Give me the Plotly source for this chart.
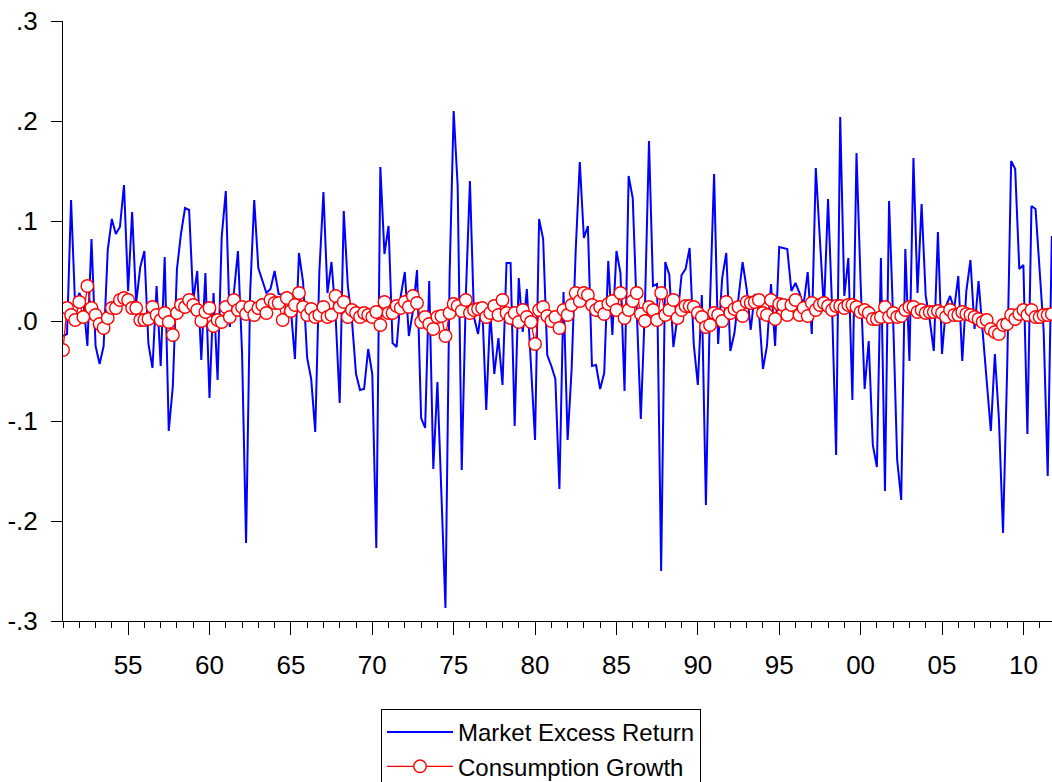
import pandas as pd
import plotly.graph_objects as go

start_quarter = "1951Q1"

# Market excess return, quarterly 1951Q1-2011Q4 (4 values per year)
market_excess_return = [
    -0.015, -0.013, 0.121, 0.014,    # 1951
    0.028, 0.020, -0.025, 0.082,     # 1952
    -0.025, -0.043, -0.025, 0.071,   # 1953
    0.102, 0.087, 0.094, 0.136,      # 1954
    0.030, 0.109, 0.018, 0.054,      # 1955
    0.070, -0.023, -0.047, 0.035,    # 1956
    -0.045, 0.064, -0.110, -0.065,   # 1957
    0.052, 0.087, 0.113, 0.111,      # 1958
    0.021, 0.050, -0.039, 0.048,     # 1959
    -0.077, 0.028, -0.059, 0.084,    # 1960
    0.130, -0.006, 0.028, 0.070,     # 1961
    -0.032, -0.222, 0.028, 0.121,    # 1962
    0.053, 0.041, 0.028, 0.032,      # 1963
    0.050, 0.027, 0.026, 0.025,      # 1964
    0.011, -0.038, 0.068, 0.039,     # 1965
    -0.037, -0.058, -0.111, 0.049,   # 1966
    0.129, 0.028, 0.059, 0.005,      # 1967
    -0.082, 0.110, 0.035, 0.001,     # 1968
    -0.053, -0.069, -0.068, -0.028,  # 1969
    -0.053, -0.227, 0.154, 0.067,    # 1970
    0.095, -0.022, -0.026, 0.025,    # 1971
    0.049, -0.015, 0.010, 0.051,     # 1972
    -0.097, -0.107, 0.040, -0.148,   # 1973
    -0.061, -0.165, -0.287, 0.044,   # 1974
    0.210, 0.135, -0.149, 0.025,     # 1975
    0.140, 0.004, -0.013, 0.018,     # 1976
    -0.089, 0.009, -0.053, -0.017,   # 1977
    -0.064, 0.058, 0.058, -0.105,    # 1978
    0.043, -0.011, 0.032, -0.044,    # 1979
    -0.119, 0.102, 0.082, -0.034,    # 1980
    -0.045, -0.058, -0.168, 0.029,   # 1981
    -0.119, -0.048, 0.070, 0.159,    # 1982
    0.083, 0.095, -0.045, -0.044,    # 1983
    -0.068, -0.052, 0.060, -0.014,   # 1984
    0.070, 0.048, -0.070, 0.145,     # 1985
    0.123, 0.011, -0.098, 0.012,     # 1986
    0.180, 0.035, 0.037, -0.250,     # 1987
    0.059, 0.046, -0.026, 0.004,     # 1988
    0.046, 0.052, 0.073, -0.023,     # 1989
    -0.064, 0.026, -0.184, 0.018,    # 1990
    0.147, -0.023, 0.043, 0.068,     # 1991
    -0.030, -0.012, 0.021, 0.059,    # 1992
    0.032, -0.009, 0.027, 0.011,     # 1993
    -0.048, -0.025, 0.037, -0.025,   # 1994
    0.074, 0.073, 0.072, 0.030,      # 1995
    0.038, 0.028, 0.016, 0.049,      # 1996
    -0.013, 0.153, 0.077, 0.011,     # 1997
    0.122, 0.014, -0.134, 0.204,     # 1998
    0.025, 0.063, -0.079, 0.168,     # 1999
    0.039, -0.068, -0.020, -0.124,   # 2000
    -0.146, 0.063, -0.170, 0.120,    # 2001
    0.001, -0.139, -0.179, 0.072,    # 2002
    -0.040, 0.163, 0.028, 0.117,     # 2003
    0.025, 0.001, -0.030, 0.089,     # 2004
    -0.033, 0.015, 0.025, 0.012,     # 2005
    0.045, -0.040, 0.030, 0.061,     # 2006
    -0.008, 0.040, -0.010, -0.061,   # 2007
    -0.110, -0.033, -0.098, -0.212,  # 2008
    -0.050, 0.160, 0.152, 0.052,     # 2009
    0.056, -0.113, 0.115, 0.112,     # 2010
    0.050, -0.010, -0.155, 0.085,    # 2011
]

# Consumption growth, quarterly 1951Q1-2011Q4
consumption_growth = [
    -0.029, 0.013, 0.006, 0.001,     # 1951
    0.019, 0.004, 0.035, 0.013,      # 1952
    0.006, -0.003, -0.007, 0.003,    # 1953
    0.013, 0.013, 0.021, 0.023,      # 1954
    0.021, 0.013, 0.013, 0.001,      # 1955
    0.001, 0.002, 0.014, 0.006,      # 1956
    0.001, 0.008, -0.001, -0.014,    # 1957
    0.008, 0.016, 0.014, 0.021,      # 1958
    0.016, 0.011, 0.000, 0.009,      # 1959
    0.013, -0.005, 0.001, -0.001,    # 1960
    0.014, 0.004, 0.021, 0.011,      # 1961
    0.014, 0.007, 0.014, 0.006,      # 1962
    0.013, 0.016, 0.008, 0.021,      # 1963
    0.018, 0.018, 0.001, 0.023,      # 1964
    0.010, 0.016, 0.028, 0.014,      # 1965
    0.006, 0.012, 0.004, 0.006,      # 1966
    0.014, 0.004, 0.006, 0.025,      # 1967
    0.014, 0.019, 0.004, 0.011,      # 1968
    0.008, 0.004, 0.008, 0.006,      # 1969
    0.004, 0.009, -0.004, 0.019,     # 1970
    0.008, 0.008, 0.015, 0.013,      # 1971
    0.019, 0.014, 0.025, 0.018,      # 1972
    -0.001, 0.004, -0.003, -0.008,   # 1973
    0.004, 0.005, -0.015, 0.008,     # 1974
    0.017, 0.015, 0.010, 0.021,      # 1975
    0.008, 0.011, 0.012, 0.013,      # 1976
    0.004, 0.008, 0.015, 0.006,      # 1977
    0.021, 0.008, 0.003, 0.008,      # 1978
    -0.001, 0.011, 0.004, -0.001,    # 1979
    -0.023, 0.011, 0.014, 0.005,     # 1980
    0.000, 0.004, -0.007, 0.011,     # 1981
    0.006, 0.016, 0.028, 0.020,      # 1982
    0.028, 0.026, 0.016, 0.011,      # 1983
    0.014, 0.007, 0.017, 0.020,      # 1984
    0.011, 0.028, 0.003, 0.011,      # 1985
    0.020, 0.028, 0.007, 0.000,      # 1986
    0.014, 0.011, 0.001, 0.028,      # 1987
    0.006, 0.011, 0.021, 0.003,      # 1988
    0.011, 0.015, 0.015, 0.014,      # 1989
    0.008, 0.004, -0.006, -0.004,    # 1990
    0.008, 0.006, 0.000, 0.019,      # 1991
    0.008, 0.012, 0.014, 0.005,      # 1992
    0.019, 0.018, 0.019, 0.021,      # 1993
    0.008, 0.006, 0.021, 0.002,      # 1994
    0.017, 0.016, 0.006, 0.016,      # 1995
    0.021, 0.006, 0.013, 0.005,      # 1996
    0.018, 0.011, 0.016, 0.018,      # 1997
    0.015, 0.011, 0.015, 0.015,      # 1998
    0.013, 0.016, 0.016, 0.014,      # 1999
    0.009, 0.011, 0.008, 0.002,      # 2000
    0.002, 0.004, 0.014, 0.004,      # 2001
    0.008, 0.004, 0.005, 0.011,      # 2002
    0.014, 0.014, 0.009, 0.011,      # 2003
    0.008, 0.009, 0.009, 0.010,      # 2004
    0.008, 0.004, 0.011, 0.006,      # 2005
    0.006, 0.009, 0.007, 0.006,      # 2006
    0.004, 0.002, -0.001, 0.001,     # 2007
    -0.008, -0.011, -0.013, -0.004,  # 2008
    -0.003, 0.006, 0.002, 0.007,     # 2009
    0.011, 0.006, 0.011, 0.004,      # 2010
    0.004, 0.006, 0.006, 0.007,      # 2011
]

y_tick_values = [-0.3, -0.2, -0.1, 0.0, 0.1, 0.2, 0.3]
y_tick_labels = ["-.3", "-.2", "-.1", ".0", ".1", ".2", ".3"]

dates = pd.period_range(start_quarter, periods=len(market_excess_return), freq="Q").to_timestamp()

FONT = "Liberation Sans, Arial, Helvetica, sans-serif"

fig = go.Figure()
fig.add_trace(go.Scatter(
    x=dates, y=market_excess_return, mode="lines",
    name="Market Excess Return",
    line=dict(color="#0000FF", width=2),
))
fig.add_trace(go.Scatter(
    x=dates, y=consumption_growth, mode="lines+markers",
    name="Consumption Growth",
    line=dict(color="#FF0000", width=1.3),
    marker=dict(symbol="circle", size=12.5, color="white",
                line=dict(color="#FF0000", width=1.4)),
))

fig.update_layout(
    width=1052, height=782,
    margin=dict(l=63, r=0, t=21, b=161, autoexpand=False),
    paper_bgcolor="white", plot_bgcolor="white",
    font=dict(family=FONT, size=26, color="black"),
    showlegend=True,
    legend=dict(
        x=(381 - 63) / 989, y=-(709 - 621) / 600, xanchor="left", yanchor="top",
        bordercolor="black", borderwidth=1, bgcolor="white",
        font=dict(family=FONT, size=24, color="black"),
        tracegroupgap=0, itemwidth=66,
    ),
)

fig.update_xaxes(
    type="date", automargin=False,
    range=["1951-01-01", "2011-10-05"],
    tick0="1955-01-01", dtick="M60", tickformat="%y",
    ticks="outside", ticklen=13, tickcolor="black", tickwidth=1,
    ticklabelstandoff=8,
    minor=dict(dtick="M12", tick0="1951-01-01", ticks="outside",
               ticklen=6, tickcolor="black", tickwidth=1, showgrid=False),
    showline=True, linecolor="black", linewidth=1,
    showgrid=False, zeroline=False,
    tickfont=dict(family=FONT, size=26, color="black"),
)
fig.update_yaxes(
    range=[-0.3, 0.3], automargin=False,
    tickvals=y_tick_values, ticktext=y_tick_labels,
    ticks="outside", ticklen=11, tickcolor="black", tickwidth=1,
    ticklabelstandoff=8,
    showline=True, linecolor="black", linewidth=1,
    showgrid=False, zeroline=False,
    tickfont=dict(family=FONT, size=26, color="black"),
)

fig.write_html(
    "out.html",
    config={"displayModeBar": False},
    post_script="document.body.style.margin='0px';document.body.style.overflow='hidden';",
)
